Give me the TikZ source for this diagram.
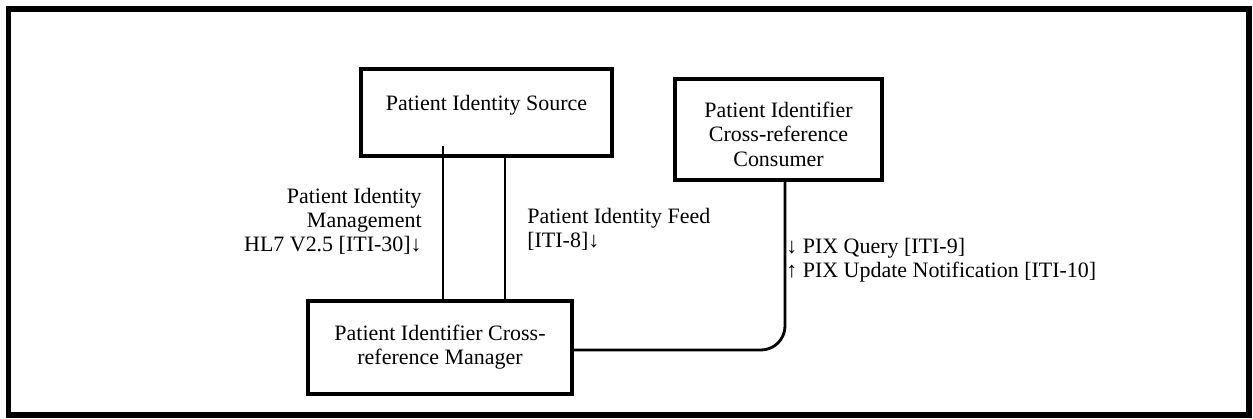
\documentclass[tikz,border=0pt]{standalone}
\usepackage{fontspec}
\setmainfont{Liberation Serif}
\usepackage{tikz}

\begin{document}
\begin{tikzpicture}[scale=1, every node/.style={scale=1},
        actor/.style={draw, line width=2.4pt, inner sep=0pt, align=center, font=\fontsize{12.5}{13.7}\selectfont},
        link/.style={line width=1.6pt},
        txn/.style={inner sep=0pt, font=\fontsize{12.5}{13.7}\selectfont}]
        % frame
        \useasboundingbox (0,0) rectangle (25.06,-8.36);
        \draw[line width=3.4pt] (0.17,-0.18) rectangle (24.98,-8.3);

        % actors
        \node[actor, minimum width=5.02cm, minimum height=1.74cm, text height=0.3cm, text depth=0.4cm] (src) at (9.73,-2.25) {Patient Identity Source};
        \node[actor, minimum width=4.14cm, minimum height=2.02cm, text height=1.46cm, text depth=0cm] (cons) at (15.57,-2.59) {Patient Identifier\\Cross-reference\\Consumer};
        \node[actor, minimum width=5.28cm, minimum height=1.86cm] (mgr) at (8.8,-6.95) {Patient Identifier Cross-\\reference Manager};

        % transactions
        \coordinate (pim) at ([xshift=-0.87cm, yshift=0.24cm]src.south);
        \coordinate (pif) at ([xshift=0.37cm]src.south);
        \coordinate (pix) at ([xshift=0.13cm]cons.south);
        \draw[link] (pim) -- (pim |- mgr.north);
        \draw[link] (pif) -- (pif |- mgr.north);
        \draw[link, rounded corners=0.48cm] (pix) |- ([yshift=-0.05cm]mgr.east);

        % transaction labels
        \node[txn, anchor=east, align=right] (pimlbl) at (8.44,-4.42) {Patient Identity\\Management\\HL7 V2.5 [ITI-30]↓};
        \node[txn, anchor=west, align=left] (piflbl) at (10.54,-4.58) {Patient Identity Feed\\{[ITI-8]↓}};
        \node[txn, anchor=west, align=left] (pixlbl) at (15.72,-5.2) {↓ PIX Query [ITI-9]\\↑ PIX Update Notification [ITI-10]};
    \end{tikzpicture}
\end{document}
